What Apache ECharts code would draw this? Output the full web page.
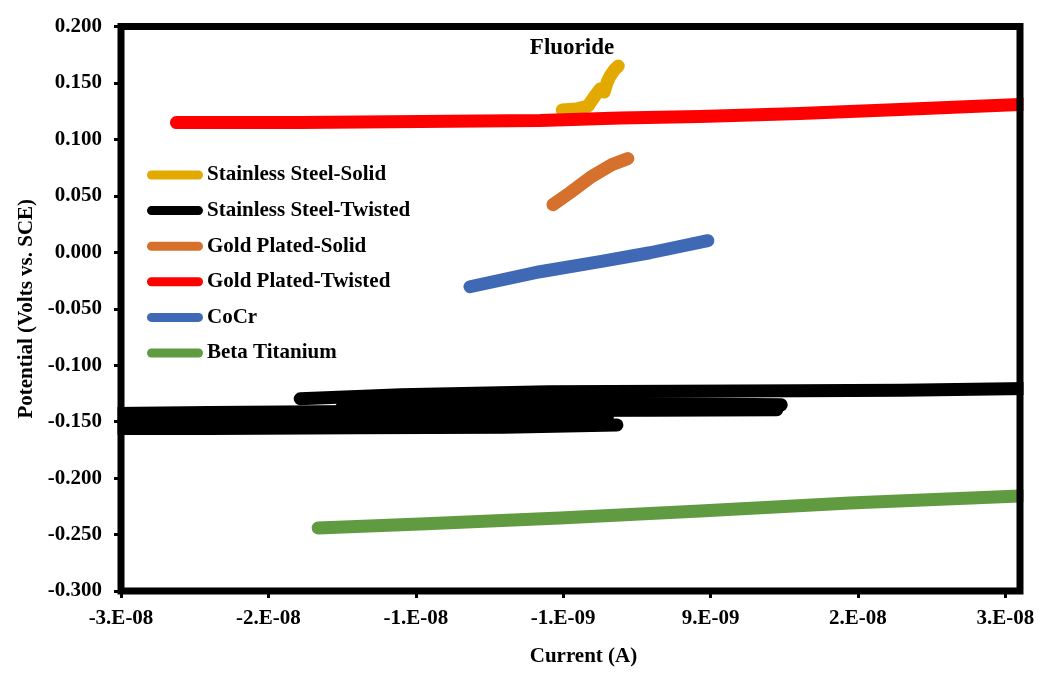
<!DOCTYPE html>
<html>
<head>
<meta charset="utf-8">
<script src="https://cdn.jsdelivr.net/npm/echarts@6/dist/echarts.min.js"></script>
<style>
    html, body {margin: 0; padding: 0; background: #fff;}
    #chart {width: 1045px; height: 676px;}
</style>
</head>
<body>
<div id="chart"></div>
<script>
// tick positions of the current axis and the labels Excel printed for them
const xTickValues = [-3.1e-8, -2.1e-8, -1.1e-8, -0.1e-8, 0.9e-8, 1.9e-8, 2.9e-8];
const xTickLabels = ['-3.E-08', '-2.E-08', '-1.E-08', '-1.E-09', '9.E-09', '2.E-08', '3.E-08'];

// [current (A), potential (V vs. SCE)]
const ssSolid = [
    [-1.06e-9, 0.1260], [-1.1e-10, 0.1269], [7.0e-10, 0.1296], [1.11e-9, 0.1376], [1.52e-9, 0.1447],
    [1.79e-9, 0.1420], [1.99e-9, 0.1508], [2.19e-9, 0.1562], [2.47e-9, 0.1615], [2.74e-9, 0.1650]
];
// twisted stainless steel: several overlapping passes
const ssTwistedA = [[-3.25e-8, -0.1560], [-2.5e-8, -0.1560], [-1.5e-8, -0.1555], [-0.5e-8, -0.1550], [0.265e-8, -0.1530]];
const ssTwistedB = [[-3.25e-8, -0.1430], [-2.5e-8, -0.1420], [-1.5e-8, -0.1410], [-0.5e-8, -0.1402], [0.5e-8, -0.1400], [1.35e-8, -0.1395]];
const ssTwistedC = [[-1.884e-8, -0.1298], [-1.2e-8, -0.1262], [-0.2e-8, -0.1236], [1.5e-8, -0.1227], [2.2e-8, -0.1222], [3.15e-8, -0.1205]];
const ssTwistedD = [[-1.5e-8, -0.1330], [0.0, -0.1335], [1.38e-8, -0.1351]];
const ssTwistedE = [[-3.25e-8, -0.1492], [-2.5e-8, -0.1490], [-1.5e-8, -0.1480], [-0.5e-8, -0.1470], [0.2e-8, -0.1460]];
const ssTwistedF = [[-1.6e-8, -0.1370], [0.0, -0.1375], [1.3e-8, -0.1380]];
const gpSolid = [[-1.69e-9, 0.0422], [-5.4e-10, 0.0528], [8.2e-10, 0.0661], [1.50e-9, 0.0715], [2.31e-9, 0.0777], [3.39e-9, 0.0830]];
const gpTwisted = [
    [-2.724e-8, 0.1149], [-1.884e-8, 0.1149], [-1.07e-8, 0.1158], [-0.257e-8, 0.1167], [0.286e-8, 0.1189],
    [0.828e-8, 0.1202], [1.505e-8, 0.1229], [2.183e-8, 0.1264], [2.997e-8, 0.1309], [3.1e-8, 0.1316]
];
const coCr = [[-0.732e-8, -0.0305], [-0.257e-8, -0.0172], [0.150e-8, -0.0083], [0.489e-8, -0.0004], [0.882e-8, 0.0103]];
const betaTi = [[-1.762e-8, -0.2441], [-1.071e-8, -0.2406], [-0.122e-8, -0.2353], [0.828e-8, -0.2291], [1.844e-8, -0.2220], [2.997e-8, -0.2158], [3.1e-8, -0.2150]];

const names = ['Stainless Steel-Solid', 'Stainless Steel-Twisted', 'Gold Plated-Solid', 'Gold Plated-Twisted', 'CoCr', 'Beta Titanium'];
const colors = ['#E2A900', '#000000', '#D5702D', '#FF0000', '#3F69B5', '#619B41'];

const FONT = '"Liberation Serif", "Times New Roman", serif';
const pill = 'path://M4.5,0 L51.5,0 A4.5,4.5 0 0 1 51.5,9 L4.5,9 A4.5,4.5 0 0 1 4.5,0 Z';

// plot box (px)
const W = 1045, H = 676;
const G = {left: 121, right: 25, top: 26.5, bottom: 85};
const boxW = W - G.left - G.right, boxH = H - G.top - G.bottom;

function line(name, color, data) {
    return {
        name: name,
        type: 'line',
        data: data,
        symbol: 'none',
        color: color,
        lineStyle: {width: 13, color: color, cap: 'round', join: 'round'},
        clip: true,
        silent: true
    };
}

const chart = echarts.init(document.getElementById('chart'));
chart.setOption({
    animation: false,
    backgroundColor: '#fff',
    textStyle: {fontFamily: FONT},
    graphic: [
        // the line clip is widened by half the line width; mask that strip outside the box
        {type: 'rect', z: 50, silent: true, shape: {x: 104, y: 10, width: G.left - 3.5 - 104, height: H - 70}, style: {fill: '#fff'}},
        {type: 'rect', z: 50, silent: true, shape: {x: G.left + boxW + 3.5, y: 10, width: 30, height: H - 70}, style: {fill: '#fff'}},
        {type: 'rect', z: 60, silent: true, shape: {x: G.left, y: G.top, width: boxW, height: boxH}, style: {fill: null, stroke: '#000', lineWidth: 7}},
        {
            type: 'text', z: 60,
            x: 572, y: 48,
            style: {text: 'Fluoride', align: 'center', verticalAlign: 'middle', font: 'bold 23px ' + FONT, fill: '#000'}
        }
    ],
    legend: {
        orient: 'vertical',
        left: 147, top: 164.5,
        padding: 0,
        itemGap: 14.6,
        itemWidth: 56, itemHeight: 9,
        selectedMode: false,
        textStyle: {fontFamily: FONT, fontWeight: 'bold', fontSize: 21, lineHeight: 21, color: '#000', padding: [0, 0, 0, -1]},
        data: names.map(function (n) { return {name: n, icon: pill}; })
    },
    grid: {
        left: G.left, right: G.right, top: G.top, bottom: G.bottom,
        show: false
    },
    xAxis: {
        type: 'value',
        z: 70,
        min: -3.1e-8, max: 3.0e-8,
        name: 'Current (A)',
        nameLocation: 'middle',
        nameGap: 55,
        nameTextStyle: {fontFamily: FONT, fontWeight: 'bold', fontSize: 21, color: '#000', padding: [0, 0, 0, 26]},
        axisLine: {show: false, onZero: false},
        axisTick: {show: true, customValues: xTickValues, length: 7, lineStyle: {color: '#000', width: 3}},
        splitLine: {show: false},
        axisLabel: {
            customValues: xTickValues,
            margin: 17,
            fontFamily: FONT, fontWeight: 'bold', fontSize: 21, color: '#000',
            formatter: function (v) {
                let best = 0;
                xTickValues.forEach(function (t, i) {
                    if (Math.abs(t - v) < Math.abs(xTickValues[best] - v)) best = i;
                });
                return xTickLabels[best];
            }
        }
    },
    yAxis: {
        type: 'value',
        z: 70,
        min: -0.3, max: 0.2, interval: 0.05,
        name: 'Potential (Volts vs. SCE)',
        nameLocation: 'middle',
        nameGap: 79,
        nameTextStyle: {fontFamily: FONT, fontWeight: 'bold', fontSize: 21, color: '#000'},
        axisLine: {show: false, onZero: false},
        axisTick: {show: true, length: 7, lineStyle: {color: '#000', width: 3}},
        splitLine: {show: false},
        axisLabel: {
            margin: 19,
            fontFamily: FONT, fontWeight: 'bold', fontSize: 21, color: '#000',
            formatter: function (v) { return v.toFixed(3); }
        }
    },
    series: [
        line(names[0], colors[0], ssSolid),
        line(names[1], colors[1], ssTwistedA),
        line(names[1], colors[1], ssTwistedE),
        line(names[1], colors[1], ssTwistedB),
        line(names[1], colors[1], ssTwistedF),
        line(names[1], colors[1], ssTwistedD),
        line(names[1], colors[1], ssTwistedC),
        line(names[2], colors[2], gpSolid),
        line(names[3], colors[3], gpTwisted),
        line(names[4], colors[4], coCr),
        line(names[5], colors[5], betaTi)
    ]
});
</script>
</body>
</html>
